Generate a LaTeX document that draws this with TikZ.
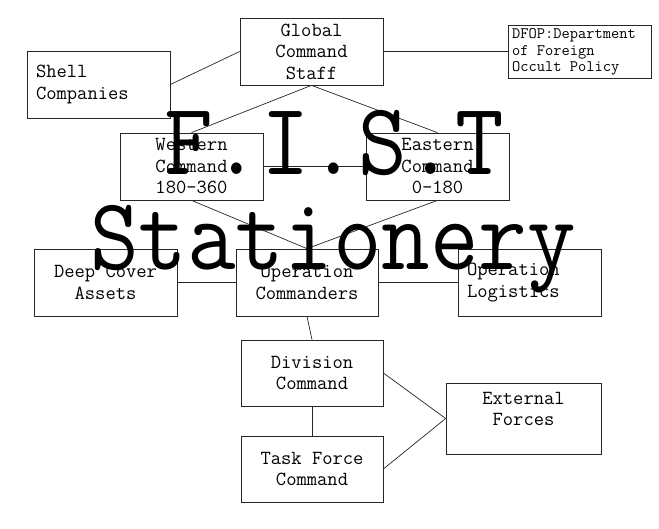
\documentclass[tikz,border=0pt]{standalone}
\usepackage{fontspec}
\begin{document}
\begin{tikzpicture}[x=1pt,y=-1pt,
  box/.style={draw=black!85, line width=0.7pt, minimum width=143pt, minimum height=67pt,
    inner sep=0pt, align=center, font=\ttfamily\fontsize{20}{21.5}\selectfont},
  leftbox/.style={box, align=left, text width=125pt},
  txt/.style={inner sep=0pt, align=center, font=\ttfamily\fontsize{20}{21.5}\selectfont},
  smalltxt/.style={inner sep=0pt, align=left, font=\ttfamily\fontsize{16}{16.5}\selectfont},
  link/.style={draw=black!85, line width=0.7pt},
  wm/.style={inner sep=0pt, font=\ttfamily\fontsize{103}{103}\selectfont, anchor=base}]
\useasboundingbox (0,0) rectangle (659,529);
\node[box] (global) at (311.5,51.5) {Global\\Command\\Staff};
\node[leftbox] (shell) at (98.5,84.5) {Shell\\Companies};
\node[box, minimum height=53pt] (dfop) at (579.5,51.5) {};
\node[smalltxt, anchor=north west] (dfopt) at (512,28.5) {DFOP:Department\\of Foreign\\Occult Policy};
\node[box] (west) at (191.5,166.5) {Western\\Command\\180-360};
\node[box] (east) at (437.5,166.5) {Eastern\\Command\\0-180};
\node[box] (deep) at (105.5,282.5) {Deep Cover\\Assets};
\node[box, minimum width=142pt] (opcmd) at (307,282.5) {Operation\\Commanders};
\node[leftbox] (oplog) at (529.5,282.5) {Operation\\Logistics};
\node[box, minimum width=142pt, minimum height=66pt] (div) at (312,373) {Division\\Command};
\node[box, minimum width=142pt, minimum height=66pt] (task) at (312,469) {Task Force\\Command};
\node[box, minimum width=155pt, minimum height=71pt] (ext) at (523.5,418.5) {};
\node[txt] (extt) at (523.5,409) {External\\Forces};
\draw[link] (shell.east) -- (global.west);
\draw[link] (global.east) -- (dfop.west);
\draw[link] (global.south) -- (west.north);
\draw[link] (global.south) -- (east.north);
\draw[link] (west.east) -- (east.west);
\draw[link] (west.south) -- (opcmd.north);
\draw[link] (east.south) -- (opcmd.north);
\draw[link] (deep.east) -- (opcmd.west);
\draw[link] (opcmd.east) -- (oplog.west);
\draw[link] (opcmd.south) -- (div.north);
\draw[link] (div.south) -- (task.north);
\draw[link] (div.east) -- (ext.west);
\draw[link] (task.east) -- (ext.west);
\node[wm] (wm1) at (334,175) {\scalebox{0.915}[1]{F.I.S.T}};
\node[wm] (wm2) at (333,270) {\scalebox{0.915}[1]{Stationery}};
\end{tikzpicture}
\end{document}
